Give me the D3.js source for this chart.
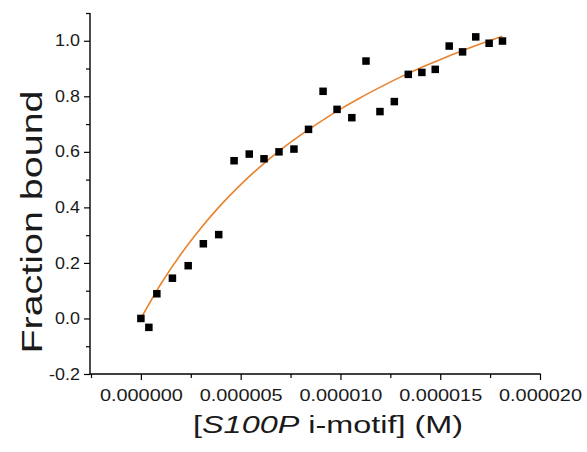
<!DOCTYPE html>
<html>
<head>
<meta charset="utf-8">
<script src="https://cdn.jsdelivr.net/npm/d3@7"></script>
<style>
  body { margin: 0; background: #fff; }
  svg { display: block; font-family: "Liberation Sans", Arial, sans-serif; }
</style>
</head>
<body>
<svg id="chart" width="587" height="452"></svg>
<script>
// concentration in µM
const conc_uM = [0, 0.4, 0.8, 1.58, 2.37, 3.13, 3.9, 4.67, 5.43, 6.17, 6.92, 7.67,
  8.4, 9.13, 9.83, 10.57, 11.28, 11.98, 12.7, 13.4, 14.08, 14.75, 15.45, 16.12,
  16.78, 17.45, 18.12]
const fraction = [0.0, -0.032, 0.089, 0.145, 0.19, 0.269, 0.302, 0.568, 0.592, 0.575,
  0.6, 0.61, 0.681, 0.818, 0.753, 0.723, 0.927, 0.745, 0.781, 0.879, 0.886, 0.897,
  0.981, 0.96, 1.014, 0.991, 0.999]

// fitted curve, points
const fit_x_uM = [0, 1, 2, 3, 4, 5, 6, 7, 8, 9, 10, 11, 12, 13, 14, 15, 16, 17, 18.12]
const fit_y = [0.0, 0.124, 0.231, 0.325, 0.408, 0.482, 0.548, 0.607, 0.66, 0.709,
  0.754, 0.795, 0.833, 0.869, 0.902, 0.932, 0.961, 0.988, 1.016]

const y_major = [-0.2, 0.0, 0.2, 0.4, 0.6, 0.8, 1.0]
const y_minor = [-0.1, 0.1, 0.3, 0.5, 0.7, 0.9, 1.1]
const x_major = [0, 5e-6, 10e-6, 15e-6, 20e-6]
const x_minor = [-2.5e-6, 2.5e-6, 7.5e-6, 12.5e-6, 17.5e-6]

const svg = d3.select('#chart')

let x = d3.scaleLinear().domain([-2.5e-6, 20e-6]).range([91, 540])
let y = d3.scaleLinear().domain([-0.2, 1.1]).range([374, 13])

// Ticks
let x_axis = svg.append('g').attr('transform', 'translate(0,374)')
  .call(d3.axisBottom(x).tickValues(x_major).tickSize(6).tickPadding(9)
    .tickFormat(d => d.toFixed(6)))
svg.append('g').attr('transform', 'translate(0,374)')
  .call(d3.axisBottom(x).tickValues(x_minor).tickSize(4).tickFormat(''))

let y_axis = svg.append('g').attr('transform', 'translate(90,0)')
  .call(d3.axisLeft(y).tickValues(y_major).tickSize(6).tickPadding(3)
    .tickFormat(d => d.toFixed(1)))
svg.append('g').attr('transform', 'translate(90,0)')
  .call(d3.axisLeft(y).tickValues(y_minor).tickSize(4).tickFormat(''))

svg.selectAll('.domain').remove()
svg.selectAll('.tick line').attr('stroke', '#000').attr('stroke-width', 1.2)

// Axis lines
svg.append('path')
  .attr('d', `M90,${y(-0.2)}H${x(20e-6) + 0.6}`)
  .attr('fill', 'none')
  .attr('stroke', '#000').attr('stroke-width', 1.5)
svg.append('path')
  .attr('d', `M90,${y(1.1)}V${y(-0.2) + 0.6}`)
  .attr('fill', 'none')
  .attr('stroke', '#000').attr('stroke-width', 1.4)

x_axis.selectAll('.tick text')
  .attr('font-size', 17).attr('fill', '#1a1a1a')
  .attr('font-family', '"Liberation Sans", Arial, sans-serif')
  .attr('transform', 'scale(1.17,1)')
y_axis.selectAll('.tick text')
  .attr('font-size', 16).attr('fill', '#1a1a1a')
  .attr('font-family', '"Liberation Sans", Arial, sans-serif')
  .attr('transform', 'scale(1.12,1)')

// Fit line
let line = d3.line()
  .x((d, i) => x(fit_x_uM[i] * 1e-6))
  .y((d, i) => y(fit_y[i]))
  .curve(d3.curveMonotoneX)
svg.append('path')
  .datum(fit_y)
  .attr('d', line)
  .attr('fill', 'none')
  .attr('stroke', '#e8832e')
  .attr('stroke-width', 1.6)

// Data markers
let sz = 7.5
svg.append('g').selectAll('rect')
  .data(fraction)
  .join('rect')
  .attr('x', (d, i) => x(conc_uM[i] * 1e-6) - sz / 2)
  .attr('y', d => y(d) - sz / 2)
  .attr('width', sz)
  .attr('height', sz)
  .attr('fill', '#000')

// Axis titles
let x_title = svg.append('text')
  .attr('transform', 'translate(328,433) scale(1.35,1)')
  .attr('text-anchor', 'middle')
  .attr('font-size', 24)
  .attr('fill', '#1a1a1a')
x_title.append('tspan').text('[')
x_title.append('tspan').attr('font-style', 'italic').text('S100P')
x_title.append('tspan').text(' i-motif] (M)')

svg.append('text')
  .attr('transform', 'translate(42,222) rotate(-90) scale(1.36,1)')
  .attr('text-anchor', 'middle')
  .attr('font-size', 29)
  .attr('fill', '#1a1a1a')
  .text('Fraction bound')
</script>
</body>
</html>
